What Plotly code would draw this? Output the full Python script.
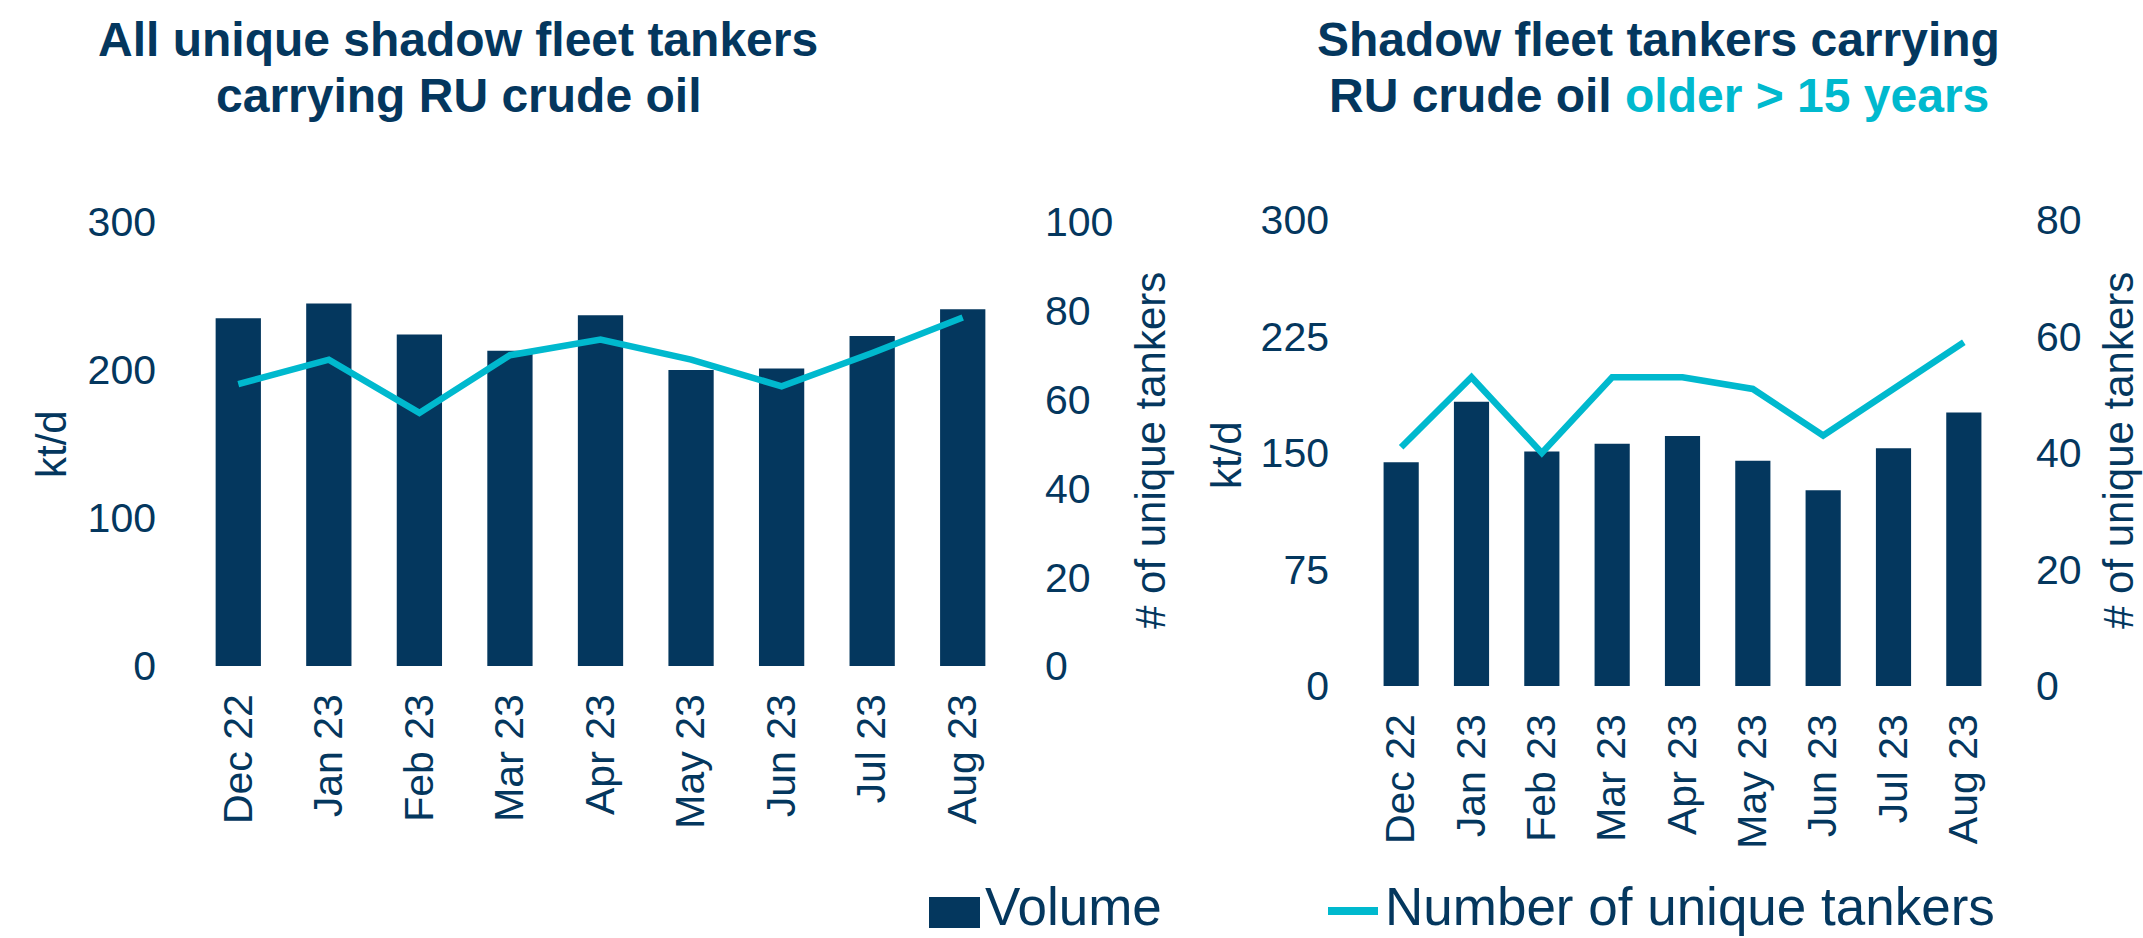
import plotly.graph_objects as go

months = ["Dec 22", "Jan 23", "Feb 23", "Mar 23", "Apr 23", "May 23", "Jun 23", "Jul 23", "Aug 23"]

# left chart: all unique shadow fleet tankers
all_volume = [235, 245, 224, 213, 237, 200, 201, 223, 241]
all_tankers = [63.5, 69, 57, 70, 73.5, 69, 63, 70.5, 78.5]

# right chart: tankers older than 15 years
old_volume = [144, 183, 151, 156, 161, 145, 126, 153, 176]
old_tankers = [41, 53, 40, 53, 53, 51, 43, 51, 59]

NAVY = "#04375E"
CYAN = "#00B9CE"
FONT = "Arial, Liberation Sans, sans-serif"
W, H = 2143, 938

fig = go.Figure()

fig.add_trace(go.Bar(x=months, y=all_volume, marker_color=NAVY, xaxis="x", yaxis="y", name="Volume"))
fig.add_trace(go.Scatter(x=months, y=all_tankers, mode="lines", line=dict(color=CYAN, width=6.5),
                         xaxis="x", yaxis="y2", name="Number of unique tankers"))
fig.add_trace(go.Bar(x=months, y=old_volume, marker_color=NAVY, xaxis="x2", yaxis="y3", name="Volume"))
fig.add_trace(go.Scatter(x=months, y=old_tankers, mode="lines", line=dict(color=CYAN, width=6.5),
                         xaxis="x2", yaxis="y4", name="Number of unique tankers"))

tick_font = dict(family=FONT, size=41, color=NAVY)

def px_x(p):
    return p / W

def px_y(p):
    return 1 - p / H

xcommon = dict(type="category", tickangle=-90, tickfont=tick_font, showgrid=False, showline=False,
               zeroline=False, ticks="", ticklabelstandoff=19, automargin=False)
ycommon = dict(tickfont=tick_font, showgrid=False, showline=False, zeroline=False, ticks="",
               ticklabelstandoff=36, automargin=False)

fig.update_layout(
    template="none",
    width=W, height=H,
    margin=dict(l=0, r=0, t=0, b=0, pad=0),
    paper_bgcolor="white", plot_bgcolor="white",
    showlegend=False,
    bargap=0.5,
    xaxis=dict(domain=[px_x(193), px_x(1008)], anchor="y", **xcommon),
    yaxis=dict(domain=[px_y(666), px_y(222)], anchor="x", range=[0, 300], dtick=100, **ycommon),
    yaxis2=dict(overlaying="y", side="right", anchor="x", range=[0, 100], dtick=20, **ycommon),
    xaxis2=dict(domain=[px_x(1366), px_x(1999)], anchor="y3", **xcommon),
    yaxis3=dict(domain=[px_y(686), px_y(220)], anchor="x2", range=[0, 300], dtick=75, **ycommon),
    yaxis4=dict(overlaying="y3", side="right", anchor="x2", range=[0, 80], dtick=20, **ycommon),
)

title_font = dict(family=FONT, size=48, color=NAVY)
axis_title_font = dict(family=FONT, size=42, color=NAVY)

annotations = [
    # titles
    dict(text="<b>All unique shadow fleet tankers</b>", x=px_x(458), y=px_y(40)),
    dict(text="<b>carrying RU crude oil</b>", x=px_x(458), y=px_y(95)),
    dict(text="<b>Shadow fleet tankers carrying</b>", x=px_x(1658), y=px_y(40)),
    dict(text="<b>RU crude oil <span style='color:%s'>older &gt; 15 years</span></b>" % CYAN,
         x=px_x(1659), y=px_y(95)),
]
for a in annotations:
    a.update(xref="paper", yref="paper", xanchor="center", yanchor="middle", showarrow=False,
             font=title_font)

axis_titles = [
    dict(text="kt/d", x=px_x(52), y=px_y(444)),
    dict(text="# of unique tankers", x=px_x(1150), y=px_y(451)),
    dict(text="kt/d", x=px_x(1227), y=px_y(455)),
    dict(text="# of unique tankers", x=px_x(2118), y=px_y(451)),
]
for a in axis_titles:
    a.update(xref="paper", yref="paper", xanchor="center", yanchor="middle", showarrow=False,
             textangle=-90, font=axis_title_font, borderpad=0)

# legend drawn by hand, Excel style: big swatch + text
legend_font = dict(family=FONT, size=53, color=NAVY)
legend_items = [
    dict(text="Volume", x=px_x(984), y=px_y(906)),
    dict(text="Number of unique tankers", x=px_x(1384), y=px_y(906)),
]
for a in legend_items:
    a.update(xref="paper", yref="paper", xanchor="left", yanchor="middle", showarrow=False,
             font=legend_font, borderpad=0)

fig.update_layout(annotations=annotations + axis_titles + legend_items)

fig.add_shape(type="rect", xref="paper", yref="paper", x0=px_x(929), x1=px_x(980),
              y0=px_y(928), y1=px_y(897), fillcolor=NAVY, line_width=0)
fig.add_shape(type="line", xref="paper", yref="paper", x0=px_x(1328), x1=px_x(1378),
              y0=px_y(911), y1=px_y(911), line=dict(color=CYAN, width=8))

# the page body has a default margin; drop it so the figure sits at 0,0
fig.write_html("out.html", config={"displayModeBar": False},
               post_script="document.body.style.margin='0';")
